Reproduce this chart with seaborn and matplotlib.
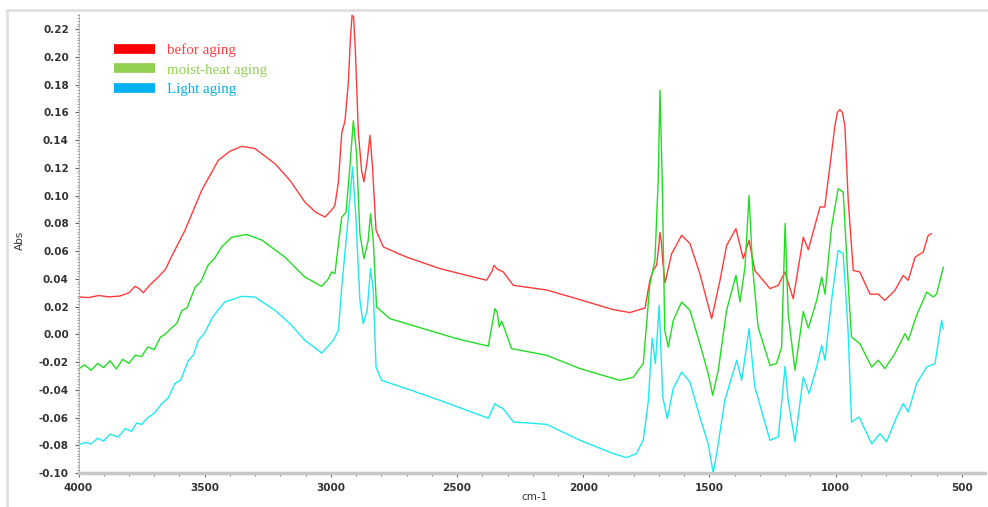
import numpy as np
import pandas as pd
import matplotlib
matplotlib.use("Agg")
import matplotlib.pyplot as plt
from matplotlib.lines import Line2D
from matplotlib.ticker import MultipleLocator, FormatStrFormatter
import seaborn as sns

# ---------------- data ----------------
series_names = ["befor aging", "moist-heat aging", "Light aging"]

red_x = [4000, 3960, 3920, 3880, 3836, 3800, 3776, 3760, 3743, 3715, 3684, 3655, 3631, 3578, 3512,
         3446, 3400, 3353, 3301, 3221, 3162, 3103, 3060, 3023, 2995, 2984, 2970, 2957, 2944, 2931,
         2922, 2916, 2910, 2903, 2891, 2878, 2869, 2856, 2845, 2835, 2821, 2792, 2700, 2568, 2450, 2383,
         2360, 2354, 2340, 2317, 2277, 2145, 2013, 1881, 1815, 1755, 1736, 1723, 1709, 1700, 1696,
         1690, 1685, 1676, 1650, 1610, 1577, 1538, 1491, 1458, 1432, 1395, 1366, 1343, 1320, 1260,
         1227, 1201, 1168, 1128, 1108, 1062, 1043, 1023, 1003, 993, 983, 973, 963, 950, 930, 904, 864, 831,
         805, 765, 732, 712, 685, 653, 633, 620]
red_y = [0.027, 0.0265, 0.028, 0.027, 0.0276, 0.030, 0.0346, 0.033, 0.030, 0.036, 0.0413, 0.047,
         0.0562, 0.075, 0.1038, 0.1255, 0.132, 0.1356, 0.134, 0.123, 0.111, 0.0954, 0.088, 0.0846,
         0.090, 0.093, 0.110, 0.145, 0.154, 0.181, 0.215, 0.230, 0.229, 0.205, 0.145, 0.118, 0.110, 0.125,
         0.1435, 0.1206, 0.075, 0.063, 0.0557, 0.0474, 0.042, 0.039, 0.046, 0.0497, 0.047, 0.045,
         0.0353, 0.032, 0.025, 0.0178, 0.0157, 0.019, 0.039, 0.046, 0.050, 0.065, 0.0735, 0.066,
         0.053, 0.037, 0.058, 0.0714, 0.0654, 0.0438, 0.0113, 0.039, 0.064, 0.0762, 0.0546, 0.0678,
         0.046, 0.033, 0.0353, 0.045, 0.0257, 0.070, 0.061, 0.0918, 0.0918, 0.1206, 0.150, 0.160, 0.162,
         0.160, 0.150, 0.0966, 0.046, 0.045, 0.029, 0.029, 0.0245, 0.0317, 0.0425, 0.039, 0.0557, 0.0593,
         0.0714, 0.0726]

green_x = [4000, 3975, 3950, 3925, 3900, 3875, 3850, 3825, 3800, 3775, 3750, 3725, 3700, 3675, 3657,
           3635, 3610, 3591, 3570, 3538, 3515, 3486, 3460, 3433, 3393, 3334, 3274, 3182, 3103, 3036,
           3010, 2997, 2984, 2957, 2940, 2925, 2911, 2898, 2885, 2869, 2852, 2843, 2832, 2819, 2766,
           2634, 2502, 2376, 2350, 2341, 2333, 2323, 2300, 2284, 2145, 2013, 1855, 1802, 1762, 1736,
           1716, 1703, 1696, 1687, 1677, 1663, 1643, 1610, 1577, 1538, 1505, 1487, 1465, 1432, 1395,
           1379, 1359, 1343, 1329, 1307, 1260, 1234, 1214, 1200, 1188, 1161, 1128, 1108, 1075, 1055,
           1042, 1016, 990, 970, 950, 937, 904, 857, 831, 805, 765, 725, 712, 679, 639, 613, 600, 573]
green_y = [-0.025, -0.022, -0.026, -0.021, -0.024, -0.019, -0.025, -0.018, -0.021, -0.015, -0.016,
           -0.009, -0.011, -0.002, 0.000, 0.004, 0.008, 0.017, 0.019, 0.034, 0.038, 0.050, 0.055,
           0.063, 0.070, 0.072, 0.068, 0.0557, 0.0413, 0.0346, 0.040, 0.045, 0.0438, 0.0846, 0.088,
           0.120, 0.154, 0.130, 0.0726, 0.0546, 0.0678, 0.087, 0.0678, 0.0197, 0.0113, 0.0041,
           -0.0031, -0.0085, 0.0185, 0.016, 0.0053, 0.0095, -0.002, -0.0103, -0.0151, -0.0247,
           -0.0332, -0.031, -0.021, 0.036, 0.0534, 0.111, 0.176, 0.111, 0.003, -0.0092, 0.0101,
           0.0233, 0.0173, -0.0067, -0.0283, -0.044, -0.026, 0.0173, 0.0425, 0.0233, 0.0485, 0.100,
           0.0485, 0.0053, -0.0224, -0.021, -0.0092, 0.080, 0.015, -0.026, 0.0165, 0.0045, 0.0245,
           0.0413, 0.029, 0.0774, 0.105, 0.1026, 0.0366, -0.002, -0.0067, -0.0236, -0.0187, -0.0247,
           -0.0139, 0.0005, -0.0043, 0.0137, 0.0305, 0.0269, 0.029, 0.0485]

cyan_x = [4000, 3975, 3950, 3925, 3900, 3875, 3842, 3815, 3790, 3770, 3750, 3725, 3700, 3670, 3645,
          3618, 3595, 3565, 3545, 3525, 3500, 3472, 3445, 3420, 3353, 3301, 3221, 3162, 3103, 3036,
          2990, 2970, 2957, 2937, 2914, 2901, 2885, 2872, 2856, 2843, 2832, 2821, 2799, 2700, 2568,
          2376, 2350, 2335, 2317, 2277, 2145, 2013, 1881, 1828, 1789, 1762, 1742, 1727, 1714, 1699,
          1685, 1667, 1643, 1610, 1577, 1538, 1505, 1485, 1469, 1439, 1392, 1372, 1343, 1320, 1260,
          1227, 1200, 1188, 1161, 1128, 1105, 1075, 1055, 1042, 1016, 990, 970, 950, 937, 907, 857,
          824, 798, 758, 732, 712, 679, 639, 606, 580, 573]
cyan_y = [-0.080, -0.078, -0.079, -0.075, -0.077, -0.072, -0.074, -0.068, -0.070, -0.064, -0.065,
          -0.060, -0.057, -0.050, -0.046, -0.0355, -0.033, -0.019, -0.015, -0.0043, 0.001, 0.0113,
          0.018, 0.0233, 0.0274, 0.0269, 0.0173, 0.0077, -0.0043, -0.0135, -0.0043, 0.0029, 0.034,
          0.0726, 0.1206, 0.0846, 0.0245, 0.0077, 0.0173, 0.0474, 0.0317, -0.0236, -0.0332, -0.0392,
          -0.0476, -0.0605, -0.050, -0.052, -0.0536, -0.0632, -0.0649, -0.0764, -0.086, -0.0889,
          -0.086, -0.076, -0.048, -0.003, -0.021, 0.021, -0.045, -0.0608, -0.039, -0.0272, -0.0344,
          -0.0596, -0.079, -0.100, -0.0836, -0.0476, -0.0187, -0.0332, 0.0041, -0.038, -0.0764,
          -0.074, -0.023, -0.0476, -0.0776, -0.0308, -0.0428, -0.0236, -0.0079, -0.0187, 0.0245,
          0.0606, 0.0582, 0.0005, -0.0632, -0.0596, -0.079, -0.0716, -0.0776, -0.0596, -0.050,
          -0.056, -0.0355, -0.0236, -0.0211, 0.0101, 0.0041]

x_ticks = [4000, 3500, 3000, 2500, 2000, 1500, 1000, 500]
y_ticks = [-0.10, -0.08, -0.06, -0.04, -0.02, 0.00, 0.02, 0.04, 0.06, 0.08, 0.10, 0.12, 0.14,
           0.16, 0.18, 0.20, 0.22]

# ---------------- build table ----------------
frames = []
for name, xs, ys in zip(series_names, [red_x, green_x, cyan_x], [red_y, green_y, cyan_y]):
    frames.append(pd.DataFrame({"wn": xs, "abs": ys, "series": name}))
df = pd.concat(frames, ignore_index=True)

line_colors = {"befor aging": "#ff3b3b", "moist-heat aging": "#22dd22", "Light aging": "#1ee8f0"}
legend_patch_colors = ["#ff0000", "#92d050", "#00b0f0"]
legend_text_colors = ["#ff4040", "#92d050", "#00b0f0"]

# ---------------- figure ----------------
sns.set_theme(style="white")
plt.rcParams["font.family"] = ["DejaVu Sans"]

W, H = 988, 507
fig = plt.figure(figsize=(W / 100, H / 100), dpi=100)
ax = fig.add_axes([78.5 / W, 1 - 473 / H, (984.5 - 78.5) / W, (473 - 14) / H])

sns.lineplot(data=df, x="wn", y="abs", hue="series", palette=line_colors, sort=False,
             estimator=None, units="series", legend=False, linewidth=1.0, ax=ax)

ax.set_xlim(4000, 410)
ax.set_ylim(-0.10, 0.231)

ax.set_xticks(x_ticks)
ax.xaxis.set_minor_locator(MultipleLocator(100))
ax.set_yticks(y_ticks)
ax.yaxis.set_minor_locator(MultipleLocator(0.002))
ax.yaxis.set_major_formatter(FormatStrFormatter("%.2f"))

tick_col = "#333333"
ax.tick_params(axis="both", which="major", length=3, width=0.8, color="#666666",
               labelsize=7.5, labelcolor=tick_col, pad=4)
ax.tick_params(axis="y", which="minor", length=1.5, width=0.6, color="#888888", left=True)
ax.tick_params(axis="x", which="minor", length=2, width=0.8, color="#888888", bottom=True)
ax.tick_params(axis="x", which="major", bottom=True)
ax.tick_params(axis="y", which="major", left=True)
for lab in ax.get_xticklabels() + ax.get_yticklabels():
    lab.set_fontweight("bold")

for s in ["top", "right"]:
    ax.spines[s].set_visible(False)
ax.spines["left"].set_color("#aaaaaa")
ax.spines["left"].set_linewidth(0.6)
ax.spines["bottom"].set_color("#c8c8c8")
ax.spines["bottom"].set_linewidth(2.5)

ax.set_xlabel("cm-1", fontsize=7.5, color=tick_col)
ax.set_ylabel("Abs", fontsize=7.5, color=tick_col)
ax.xaxis.set_label_coords((535 - 78.5) / (984.5 - 78.5), -(497 - 473) / (473 - 14))
ax.xaxis.label.set_verticalalignment("center")
ax.yaxis.set_label_coords(-(78.5 - 20) / (984.5 - 78.5), (473 - 240) / (473 - 14))
ax.yaxis.label.set_verticalalignment("center")

# legend
handles = [Line2D([0], [0], color=c, lw=7, solid_capstyle="butt") for c in legend_patch_colors]
leg = ax.legend(handles, series_names, loc="upper left",
                bbox_to_anchor=(114 / W, 1 - 43 / H), bbox_transform=fig.transFigure,
                frameon=False, handlelength=2.7, handletextpad=0.8, labelspacing=0.42,
                borderaxespad=0, borderpad=0,
                prop={"family": "Liberation Serif", "size": 10.8})
for t, c in zip(leg.get_texts(), legend_text_colors):
    t.set_color(c)

# outer light frame (top and left edges)
fig.add_artist(Line2D([7 / W, 1], [1 - 10 / H, 1 - 10 / H], transform=fig.transFigure,
                      color="#e0e0e0", lw=2))
fig.add_artist(Line2D([7 / W, 7 / W], [0, 1 - 10 / H], transform=fig.transFigure,
                      color="#e0e0e0", lw=2))

fig.savefig("out.png", dpi=100, facecolor="white")
